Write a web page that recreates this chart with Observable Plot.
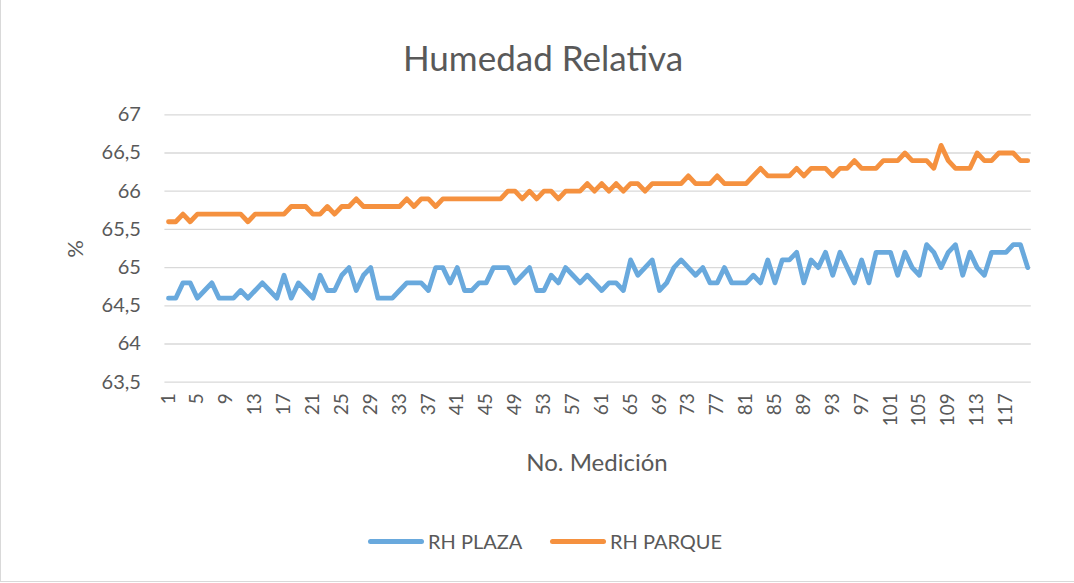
<!DOCTYPE html>
<html>
<head>
<meta charset="utf-8">
<script src="https://cdn.jsdelivr.net/npm/d3@7"></script>
<script src="https://cdn.jsdelivr.net/npm/@observablehq/plot@0.6"></script>
<style>
  html, body { margin: 0; padding: 0; background: #fff; }
  #wrap { position: relative; width: 1074px; height: 583px; overflow: hidden; font-family: Lato, "Open Sans", sans-serif; color: #595959; background:#fff; }
  #frame { position: absolute; left: 0; top: -2px; width: 1090px; height: 584px; border: 1px solid #d9d9d9; box-sizing: border-box; }
  #title { position: absolute; left: 0; width: 1086px; top: 35px; text-align: center; font-size: 35px; line-height: 44px; }
  #chart { position: absolute; left: 0; top: 80px; }
  #ylabel { position: absolute; left: 61px; top: 235px; width: 28px; height: 28px; font-size: 22px; line-height: 28px; text-align: center; transform: rotate(-90deg); }
  #xlabel { position: absolute; left: 397px; width: 400px; top: 447px; text-align: center; font-size: 24px; line-height: 30px; }
  #legend { position: absolute; top: 528px; left: 0; width: 1074px; height: 26px; }
  .item { position: absolute; top: 0; height: 26px; display: flex; align-items: center; font-size: 20px; }
  .swatch { width: 56px; height: 5px; border-radius: 3px; margin-right: 4px; }
</style>
</head>
<body>
<div id="wrap">
  <div id="frame"></div>
  <div id="title"></div>
  <div id="chart"></div>
  <div id="ylabel"></div>
  <div id="xlabel"></div>
  <div id="legend"></div>
</div>
<script>
const titleText = "Humedad Relativa";
const yTitle = "%";
const xTitle = "No. Medición";
const seriesNames = ["RH PLAZA", "RH PARQUE"];
const seriesColors = ["#69A9DD", "#F5913F"];

const yTicks = [63.5, 64, 64.5, 65, 65.5, 66, 66.5, 67];
const xTicks = [1, 5, 9, 13, 17, 21, 25, 29, 33, 37, 41, 45, 49, 53, 57, 61, 65, 69, 73, 77, 81, 85, 89, 93, 97, 101, 105, 109, 113, 117];

const rhPlaza = [
  64.6, 64.6, 64.8, 64.8, 64.6, 64.7, 64.8, 64.6, 64.6, 64.6,
  64.7, 64.6, 64.7, 64.8, 64.7, 64.6, 64.9, 64.6, 64.8, 64.7,
  64.6, 64.9, 64.7, 64.7, 64.9, 65.0, 64.7, 64.9, 65.0, 64.6,
  64.6, 64.6, 64.7, 64.8, 64.8, 64.8, 64.7, 65.0, 65.0, 64.8,
  65.0, 64.7, 64.7, 64.8, 64.8, 65.0, 65.0, 65.0, 64.8, 64.9,
  65.0, 64.7, 64.7, 64.9, 64.8, 65.0, 64.9, 64.8, 64.9, 64.8,
  64.7, 64.8, 64.8, 64.7, 65.1, 64.9, 65.0, 65.1, 64.7, 64.8,
  65.0, 65.1, 65.0, 64.9, 65.0, 64.8, 64.8, 65.0, 64.8, 64.8,
  64.8, 64.9, 64.8, 65.1, 64.8, 65.1, 65.1, 65.2, 64.8, 65.1,
  65.0, 65.2, 64.9, 65.2, 65.0, 64.8, 65.1, 64.8, 65.2, 65.2,
  65.2, 64.9, 65.2, 65.0, 64.9, 65.3, 65.2, 65.0, 65.2, 65.3,
  64.9, 65.2, 65.0, 64.9, 65.2, 65.2, 65.2, 65.3, 65.3, 65.0
];

const rhParque = [
  65.6, 65.6, 65.7, 65.6, 65.7, 65.7, 65.7, 65.7, 65.7, 65.7,
  65.7, 65.6, 65.7, 65.7, 65.7, 65.7, 65.7, 65.8, 65.8, 65.8,
  65.7, 65.7, 65.8, 65.7, 65.8, 65.8, 65.9, 65.8, 65.8, 65.8,
  65.8, 65.8, 65.8, 65.9, 65.8, 65.9, 65.9, 65.8, 65.9, 65.9,
  65.9, 65.9, 65.9, 65.9, 65.9, 65.9, 65.9, 66.0, 66.0, 65.9,
  66.0, 65.9, 66.0, 66.0, 65.9, 66.0, 66.0, 66.0, 66.1, 66.0,
  66.1, 66.0, 66.1, 66.0, 66.1, 66.1, 66.0, 66.1, 66.1, 66.1,
  66.1, 66.1, 66.2, 66.1, 66.1, 66.1, 66.2, 66.1, 66.1, 66.1,
  66.1, 66.2, 66.3, 66.2, 66.2, 66.2, 66.2, 66.3, 66.2, 66.3,
  66.3, 66.3, 66.2, 66.3, 66.3, 66.4, 66.3, 66.3, 66.3, 66.4,
  66.4, 66.4, 66.5, 66.4, 66.4, 66.4, 66.3, 66.6, 66.4, 66.3,
  66.3, 66.3, 66.5, 66.4, 66.4, 66.5, 66.5, 66.5, 66.4, 66.4
];

const mediciones = rhPlaza.map((_, i) => i + 1);

const rows = [];
[rhPlaza, rhParque].forEach((vals, s) => {
  vals.forEach((v, i) => rows.push({ n: mediciones[i], v, serie: seriesNames[s] }));
});

document.getElementById("title").textContent = titleText;
document.getElementById("ylabel").textContent = yTitle;
document.getElementById("xlabel").textContent = xTitle;

const fmt = d => String(d).replace(".", ",");

const chart = Plot.plot({
  width: 1074,
  height: 420,
  marginLeft: 164.4,
  marginRight: 43.2,
  marginTop: 34.3,
  marginBottom: 118.3,
  style: { fontFamily: "Lato, 'Open Sans', sans-serif", color: "#595959", background: "transparent" },
  x: { type: "linear", domain: [0.5, mediciones.length + 0.5] },
  y: { domain: [yTicks[0], yTicks[yTicks.length - 1]] },
  color: { domain: seriesNames, range: seriesColors },
  marks: [
    Plot.gridY(yTicks, { stroke: "#d9d9d9", strokeOpacity: 1, strokeWidth: 1.3 }),
    Plot.axisY(yTicks, { tickSize: 0, tickPadding: 24, fontSize: 20, tickFormat: fmt, label: null }),
    Plot.axisX(xTicks, { tickSize: 0, tickPadding: 11, tickRotate: -90, fontSize: 19, tickFormat: d => String(d), label: null }),
    Plot.line(rows, { x: "n", y: "v", z: "serie", stroke: "serie", strokeWidth: 4.8, strokeLinejoin: "round", strokeLinecap: "round" })
  ]
});
document.getElementById("chart").appendChild(chart);

const legend = document.getElementById("legend");
const legendLeft = [368, 550];
seriesNames.forEach((name, i) => {
  const item = document.createElement("div");
  item.className = "item";
  item.style.left = legendLeft[i] + "px";
  const sw = document.createElement("div");
  sw.className = "swatch";
  sw.style.background = seriesColors[i];
  const tx = document.createElement("span");
  tx.textContent = name;
  item.appendChild(sw);
  item.appendChild(tx);
  legend.appendChild(item);
});
</script>
</body>
</html>
